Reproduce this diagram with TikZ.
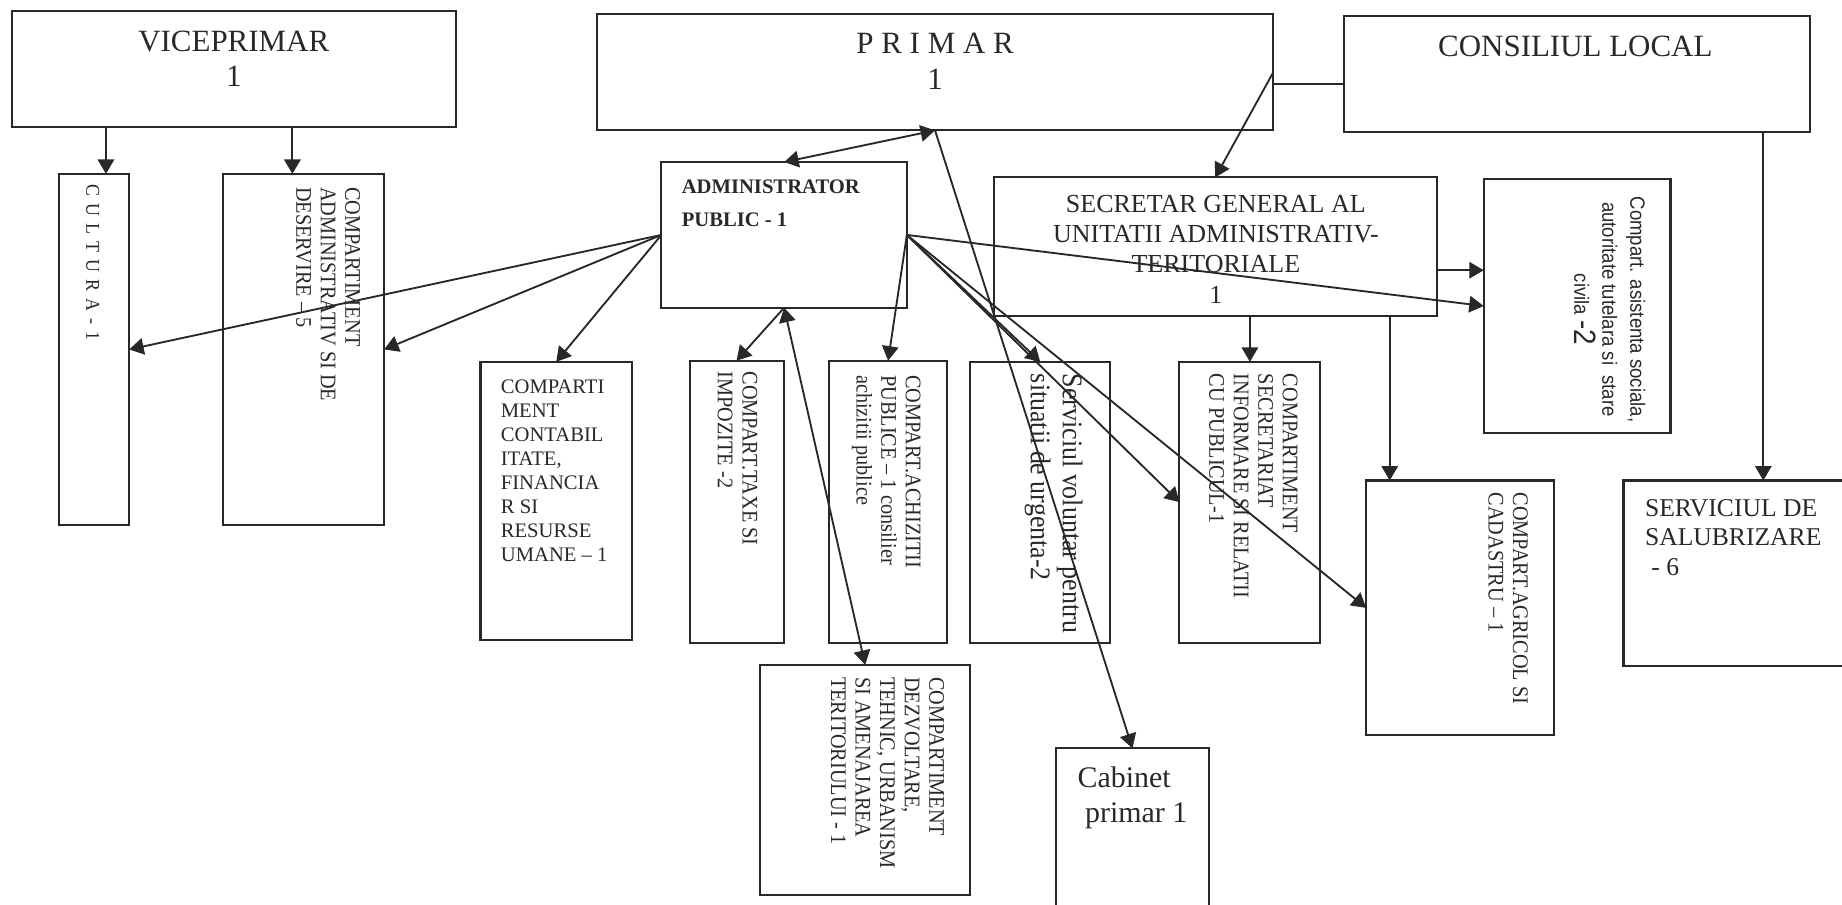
\documentclass[tikz,border=0pt]{standalone}
\usepackage{fontspec}
\setmainfont{Liberation Serif}
\newfontfamily\narrowserif[Ligatures=TeX, FakeStretch=0.91]{Liberation Serif}
\newfontfamily\narrowsans[Ligatures=TeX, FakeStretch=0.9]{Liberation Sans}
\usetikzlibrary{arrows.meta,calc}

\definecolor{ink}{RGB}{40,40,40}

\tikzset{
  unitbox/.style={draw=ink, line width=1pt, rectangle, anchor=north west, inner sep=0pt, outer sep=0pt},
  headtext/.style={anchor=north, inner sep=0pt, align=center, text=ink, font=\fontsize{15}{17.2}\selectfont},
  flattext/.style={anchor=north west, inner sep=0pt, align=left, text=ink},
  vtext/.style={rotate=-90, anchor=north west, inner sep=0pt, align=left, text=ink, font=\narrowserif\fontsize{10.8}{11.9}\selectfont},
  link/.style={draw=ink, line width=0.9pt, -{Triangle[length=7pt,width=8pt]}},
  twolink/.style={draw=ink, line width=0.9pt, {Triangle[length=7pt,width=8pt]}-{Triangle[length=7pt,width=8pt]}},
  plainlink/.style={draw=ink, line width=0.9pt},
}

\begin{document}
\begin{tikzpicture}[x=0.02cm, y=-0.02cm]
        \useasboundingbox (0,0) rectangle (1568,770);

        % top row
        \node[unitbox, minimum width=7.56cm, minimum height=1.98cm] (vice) at (10,9) {};
        \node[unitbox, minimum width=11.52cm, minimum height=1.98cm] (primar) at (508,12) {};
        \node[unitbox, minimum width=7.94cm, minimum height=1.96cm] (consiliu) at (1144,14) {};

        \node[headtext] (vice-t) at (199,26) {VICEPRIMAR\\1};
        \node[headtext] (primar-t) at (796,28) {P R I M A R\\1};
        \node[headtext] (consiliu-t) at (1341,30) {CONSILIUL LOCAL};

        % second row
        \node[unitbox, minimum width=1.2cm, minimum height=5.98cm] (cultura) at (50,148) {};
        \node[unitbox, minimum width=2.74cm, minimum height=5.98cm] (admcomp) at (190,148) {};
        \node[unitbox, minimum width=4.18cm, minimum height=2.48cm] (admin) at (563,138) {};
        \node[unitbox, minimum width=7.54cm, minimum height=2.36cm] (secretar) at (846,151) {};
        \node[unitbox, minimum width=3.18cm, minimum height=4.34cm] (asist) at (1263,152) {};

        \node[vtext, font=\narrowserif\fontsize{9.5}{10}\selectfont] (cultura-t) at (85,157) {\spaceskip=0.36em\relax C U L T U R A - 1};
        \node[vtext] (admcomp-t) at (307,159) {COMPARTIMENT\\ADMINISTRATIV SI DE\\DESERVIRE -- 5};
        \node[flattext, font=\bfseries\fontsize{10}{15.8}\selectfont] (admin-t) at (580,153) {ADMINISTRATOR\\PUBLIC - 1};
        \node[headtext, font=\fontsize{12.6}{14.6}\selectfont] (secretar-t) at (1035,166) {SECRETAR GENERAL AL\\UNITATII ADMINISTRATIV-\\TERITORIALE\\1};
        \node[vtext, align=center, font=\narrowsans\fontsize{10}{13.6}\selectfont] (asist-t) at (1401,167) {Compart. asistenta sociala,\\autoritate tutelara si\ \ stare\\civila {\fontsize{15}{13.6}\selectfont -2}};

        % third row
        \node[unitbox, minimum width=2.58cm, minimum height=4.74cm] (contab) at (409,308) {};
        \node[unitbox, minimum width=1.6cm, minimum height=4.8cm] (taxe) at (587,307) {};
        \node[unitbox, minimum width=2.0cm, minimum height=4.8cm] (achiz) at (706,307) {};
        \node[unitbox, minimum width=2.38cm, minimum height=4.78cm] (voluntar) at (826,308) {};
        \node[unitbox, minimum width=2.4cm, minimum height=4.78cm] (secretariat) at (1004,308) {};
        \node[unitbox, minimum width=3.2cm, minimum height=4.34cm] (agricol) at (1163,409) {};
        \node[unitbox, minimum width=4.76cm, minimum height=3.16cm] (salub) at (1382,409) {};

        \node[flattext, font=\fontsize{10}{11.6}\selectfont] (contab-t) at (426,323) {COMPARTI\\MENT\\CONTABIL\\ITATE,\\FINANCIA\\R SI\\RESURSE\\UMANE -- 1};
        \node[vtext] (taxe-t) at (645,316) {COMPART.TAXE SI\\IMPOZITE -2};
        \node[vtext] (achiz-t) at (784,319) {COMPART.ACHIZITII\\PUBLICE -- 1 consilier\\achizitii publice};
        \node[vtext, font=\narrowserif\fontsize{13.8}{15.6}\selectfont] (voluntar-t) at (922,318) {Serviciul voluntar pentru\\situatii de urgenta-2};
        \node[vtext] (secretariat-t) at (1105,318) {COMPARTIMENT\\SECRETARIAT\\INFORMARE SI RELATII\\CU PUBLICUL-1};
        \node[vtext] (agricol-t) at (1301,419) {COMPART.AGRICOL SI\\CADASTRU -- 1};
        \node[flattext, font=\fontsize{12.4}{14.2}\selectfont] (salub-t) at (1400,425) {SERVICIUL DE\\SALUBRIZARE\\\ - 6};

        % bottom row
        \node[unitbox, minimum width=3.58cm, minimum height=3.92cm] (dezv) at (647,566) {};
        \node[unitbox, minimum width=2.6cm, minimum height=3.06cm] (cabinet) at (899,637) {};

        \node[vtext] (dezv-t) at (804,576) {COMPARTIMENT\\DEZVOLTARE,\\TEHNIC, URBANISM\\SI AMENAJAREA\\TERITORIULUI - 1};
        \node[flattext, font=\fontsize{14.5}{16.9}\selectfont] (cabinet-t) at (917,652) {Cabinet\\\ primar 1};

        % entry points
        \coordinate (cul-in) at ($(cultura.north west)!0.67!(cultura.north east)$);
        \coordinate (adc-in) at ($(admcomp.north west)!0.43!(admcomp.north east)$);
        \coordinate (pr-cl) at ($(primar.south east)!0.4!(primar.north east)$);
        \coordinate (sg-as) at ($(secretar.south east)!0.33!(secretar.north east)$);
        \coordinate (ag-in) at ($(agricol.north west)!0.125!(agricol.north east)$);

        % viceprimar
        \draw[link] (cul-in |- vice.south) -- (cul-in);
        \draw[link] (adc-in |- vice.south) -- (adc-in);

        % primar
        \draw[twolink] (primar.south) -- (admin.north);
        \draw[link] (primar.south) -- (cabinet.north);
        \draw[plainlink] (pr-cl) -- (pr-cl -| consiliu.west);
        \draw[link] (primar.east) -- (secretar.north);

        % consiliul local
        \draw[link] (consiliu.south -| salub.north) -- (salub.north);

        % secretar general
        \draw[link] (sg-as) -- (sg-as -| asist.west);
        \draw[link] (secretariat.north |- secretar.south) -- (secretariat.north);
        \draw[link] (ag-in |- secretar.south) -- (ag-in);

        % administrator, left side
        \draw[link] (admin.west) -- (cultura.east);
        \draw[link] (admin.west) -- (admcomp.east);
        \draw[link] (admin.west) -- (contab.north);

        % administrator, bottom
        \draw[link] (admin.south) -- (taxe.north);
        \draw[twolink] (dezv.north) -- (admin.south);

        % administrator, right side
        \draw[link] (admin.east) -- (asist.west);
        \draw[link] (admin.east) -- (achiz.north);
        \draw[link] (admin.east) -- (voluntar.north);
        \draw[link] (admin.east) -- (secretariat.west);
        \draw[link] (admin.east) -- (agricol.west);
    \end{tikzpicture}
\end{document}
